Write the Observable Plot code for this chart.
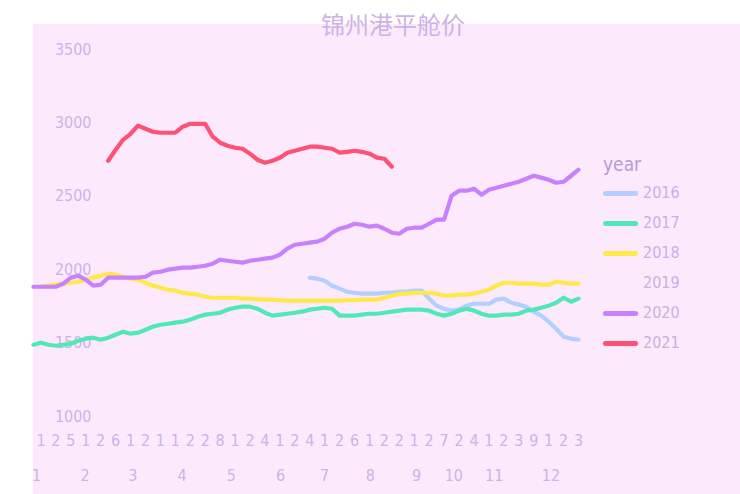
<!DOCTYPE html>
<html>
<head>
<meta charset="utf-8">
<script src="https://cdn.jsdelivr.net/npm/d3@7"></script>
<script src="https://cdn.jsdelivr.net/npm/@observablehq/plot@0.6"></script>
<style>
  body { margin: 0; background: #ffffff; }
  #wrap { position: relative; width: 740px; height: 494px; overflow: hidden; background: #ffffff; }
  #bg { position: absolute; left: 33px; top: 24px; width: 707px; height: 470px; background: #fceafc; }
  #chart { position: absolute; left: 33px; top: 24px; }
  #title { position: absolute; left: 0; top: 10px; width: 786px; text-align: center;
           font-family: "Noto Sans CJK SC", sans-serif; font-size: 24px; line-height: 28px; color: #cbb3e6; }
  #legend { position: absolute; left: 603px; top: 150px; font-family: "Liberation Sans Narrow", "DejaVu Sans Condensed", "Roboto", sans-serif; }
  .lg-title { height: 28px; line-height: 28px; font-size: 19px; color: #b59bd8; }
  .lg-row { position: relative; height: 30px; line-height: 30px; font-size: 16px; color: #c6b1e4; }
  .lg-sw { position: absolute; left: 0; top: 13px; width: 35px; height: 5px; border-radius: 3px; }
  .lg-lab { position: absolute; left: 40px; top: 0; }
</style>
</head>
<body>
<div id="wrap">
  <div id="bg"></div>
  <div id="chart"></div>
  <div id="title">锦州港平舱价</div>
  <div id="legend"></div>
</div>
<script>
// ---- data ----
const years = ["2016", "2017", "2018", "2019", "2020", "2021"];
const colors = ["#b3cfff", "#50e8b8", "#ffe94a", "#fbe9fb", "#c880ff", "#ff5075"];

const s2016Start = 37;
const s2016 = [1946,1939,1925,1891,1871,1850,1843,1837,1837,1837,
               1843,1843,1850,1850,1857,1857,1803,1755,1734,1721,
               1728,1755,1768,1768,1768,1796,1803,1775,1762,1748,
               1714,1687,1646,1598,1544,1530,1523];
const s2017Start = 0;
const s2017 = [1489,1503,1489,1482,1489,1496,1516,1530,1537,1523,
               1537,1557,1578,1564,1571,1591,1612,1625,1632,1639,
               1646,1660,1680,1694,1700,1707,1728,1741,1748,1748,
               1734,1707,1687,1694,1700,1707,1714,1728,1734,1741,
               1734,1687,1687,1687,1694,1700,1700,1707,1714,1721,
               1728,1728,1728,1721,1700,1687,1700,1721,1734,1721,
               1700,1687,1687,1694,1694,1700,1721,1728,1741,1755,
               1775,1809,1782,1803];
const s2018Start = 0;
const s2018 = [1884,1884,1891,1898,1905,1911,1918,1932,1946,1959,
               1973,1966,1952,1939,1932,1911,1891,1877,1864,1857,
               1843,1837,1830,1816,1809,1809,1809,1809,1803,1803,
               1799,1796,1796,1792,1789,1789,1789,1789,1789,1789,
               1789,1789,1792,1792,1796,1796,1796,1809,1823,1837,
               1837,1843,1843,1843,1837,1823,1823,1830,1830,1837,
               1850,1864,1891,1911,1911,1905,1905,1905,1898,1898,
               1918,1911,1905,1905];
const s2020Start = 0;
const s2020 = [1884,1884,1884,1884,1905,1946,1959,1932,1891,1898,
               1946,1946,1946,1946,1946,1952,1980,1986,2000,2007,
               2014,2014,2020,2027,2041,2068,2061,2054,2048,2061,
               2068,2075,2082,2102,2143,2170,2177,2184,2191,2211,
               2252,2279,2293,2313,2306,2293,2300,2279,2252,2245,
               2279,2286,2286,2313,2341,2341,2504,2538,2538,2552,
               2511,2545,2558,2572,2586,2599,2620,2640,2627,2613,
               2592,2599,2640,2681];
const s2021Start = 10;
const s2021 = [2742,2817,2885,2926,2981,2960,2940,2933,2933,2933,
               2974,2994,2994,2994,2906,2865,2844,2831,2824,2790,
               2749,2729,2742,2763,2797,2810,2824,2838,2838,2831,
               2824,2797,2803,2810,2803,2790,2763,2756,2701];

const yTicks = [1000, 1500, 2000, 2500, 3000, 3500];
const dayLabels = ["1","2","5","1","2","6","1","2","1","1","2","2","8","1","2","4","1","2","4",
                   "1","2","6","1","2","2","1","2","7","2","4","1","2","3","9","1","2","3"];
const dayTickPos = d3.range(1, 74, 2);
const monthLabels = ["1","2","3","4","5","6","7","8","9","10","11","12"];
const monthPos = [0.4, 6.9, 13.3, 19.9, 26.5, 33.1, 39.0, 45.1, 51.3, 56.3, 61.7, 69.3];

// ---- build table ----
const series = [
  ["2016", s2016Start, s2016],
  ["2017", s2017Start, s2017],
  ["2018", s2018Start, s2018],
  ["2020", s2020Start, s2020],
  ["2021", s2021Start, s2021]
];
const rows = [];
for (const [yr, start, vals] of series) {
  vals.forEach((v, k) => rows.push({year: yr, i: start + k, v}));
}

const font = '"Liberation Sans Narrow", "DejaVu Sans Condensed", "Roboto", sans-serif';
const txt = "#c9b5e6";

const chart = Plot.plot({
  width: 707,
  height: 470,
  marginLeft: 0,
  marginRight: 162,
  marginTop: 25,
  marginBottom: 78,
  style: {background: "transparent", fontFamily: font, fontSize: "16px", color: txt, overflow: "visible"},
  x: {domain: [0, 73], axis: null},
  y: {domain: [1000, 3500], axis: null},
  color: {domain: years, range: colors},
  marks: [
    Plot.axisY(yTicks, {anchor: "left", label: null, tickSize: 0, tickPadding: 0, dx: 58, fill: txt, fontSize: 16,
      tickFormat: d => String(d)}),
    Plot.axisX(dayTickPos, {anchor: "bottom", label: null, tickSize: 0, tickPadding: 18, fill: txt, fontSize: 16,
      tickFormat: (d) => dayLabels[(d - 1) / 2]}),
    Plot.axisX(monthPos, {anchor: "bottom", label: null, tickSize: 0, tickPadding: 53, fill: txt, fontSize: 16,
      tickFormat: (d) => monthLabels[monthPos.indexOf(d)]}),
    Plot.lineY(rows, {x: "i", y: "v", z: "year", stroke: "year", strokeWidth: 4.2,
      strokeLinejoin: "round", strokeLinecap: "round"})
  ]
});
document.getElementById("chart").appendChild(chart);

// ---- legend ----
const lg = document.getElementById("legend");
const t = document.createElement("div");
t.className = "lg-title";
t.textContent = "year";
lg.appendChild(t);
years.forEach((y, k) => {
  const r = document.createElement("div");
  r.className = "lg-row";
  const sw = document.createElement("div");
  sw.className = "lg-sw";
  sw.style.background = colors[k];
  const lab = document.createElement("div");
  lab.className = "lg-lab";
  lab.textContent = y;
  r.appendChild(sw);
  r.appendChild(lab);
  lg.appendChild(r);
});
</script>
</body>
</html>
